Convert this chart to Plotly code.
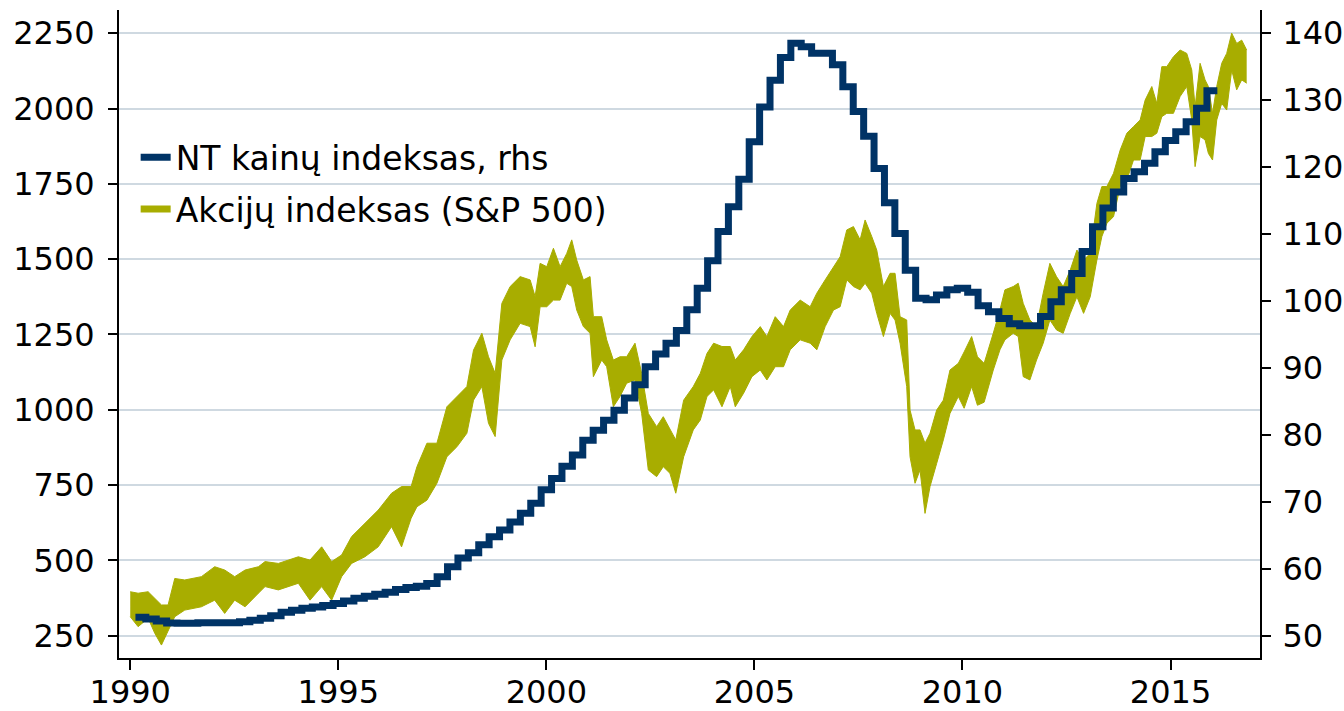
import plotly.graph_objects as go

# ---------------- data ----------------
# Real-estate price index (right axis), quarterly levels 1990Q1 .. 2016Q1,
# plotted at mid-quarter dates (decimal years)
nt_values = [
    52.75, 52.75, 52.5, 52.2,
    51.9, 51.85, 51.85, 51.95,
    51.95, 51.95, 51.95, 52.1,
    52.3, 52.6, 53.0, 53.5,
    53.8, 54.1, 54.3, 54.5,
    54.8, 55.2, 55.6, 55.9,
    56.2, 56.5, 56.9, 57.2,
    57.4, 57.8, 58.8, 60.3,
    61.6, 62.4, 63.6, 64.8,
    65.8, 67.0, 68.3, 69.8,
    71.8, 73.5, 75.3, 77.0,
    79.2, 80.7, 82.2, 83.7,
    85.5, 87.5, 90.2, 92.1,
    93.7, 95.6, 98.7, 101.9,
    106.0, 110.4, 114.1, 118.2,
    123.8, 129.0, 133.0, 136.4,
    138.5, 138.0, 137.0, 137.0,
    135.3, 132.0, 128.3, 124.6,
    119.8, 114.7, 110.1, 104.6,
    100.4, 100.2, 100.9, 101.7,
    101.9, 101.3, 99.3, 98.4,
    97.4, 96.6, 96.3, 96.3,
    97.7, 99.9, 101.7, 104.1,
    107.4, 111.1, 113.9, 116.3,
    118.3, 119.3, 120.6, 122.3,
    124.0, 125.3, 126.8, 128.8,
    131.4,
]
nt_years = [1990.125 + 0.25 * i for i in range(len(nt_values))]

# S&P 500 (left axis): upper and lower edge of the daily band
sp_years = [
    1990.00, 1990.19, 1990.43, 1990.59, 1990.75, 1990.91, 1991.07, 1991.31, 1991.71,
    1992.03, 1992.27, 1992.51, 1992.76, 1993.08, 1993.24, 1993.56, 1994.04, 1994.32,
    1994.60, 1994.84, 1995.08, 1995.32, 1995.64, 1995.96, 1996.28, 1996.52, 1996.75,
    1996.89, 1997.13, 1997.37, 1997.61, 1997.85, 1998.09, 1998.25, 1998.45, 1998.61,
    1998.77, 1998.93, 1999.13, 1999.37, 1999.61, 1999.73, 1999.85, 2000.01, 2000.17,
    2000.33, 2000.49, 2000.61, 2000.73, 2000.89, 2001.05, 2001.13, 2001.33, 2001.45,
    2001.61, 2001.77, 2001.93, 2002.13, 2002.29, 2002.45, 2002.65, 2002.81, 2002.97,
    2003.11, 2003.30, 2003.53, 2003.70, 2003.86, 2004.02, 2004.22, 2004.42, 2004.54,
    2004.74, 2004.94, 2005.14, 2005.30, 2005.50, 2005.70, 2005.86, 2006.10, 2006.34,
    2006.50, 2006.70, 2006.90, 2007.06, 2007.22, 2007.38, 2007.54, 2007.66, 2007.82,
    2007.94, 2008.10, 2008.26, 2008.38, 2008.50, 2008.66, 2008.74, 2008.86, 2008.98,
    2009.10, 2009.22, 2009.38, 2009.54, 2009.70, 2009.90, 2010.04, 2010.22, 2010.36,
    2010.52, 2010.74, 2010.90, 2011.02, 2011.22, 2011.34, 2011.46, 2011.62, 2011.78,
    2011.94, 2012.10, 2012.26, 2012.42, 2012.59, 2012.75, 2012.91, 2013.07, 2013.23,
    2013.35, 2013.47, 2013.63, 2013.79, 2013.95, 2014.11, 2014.27, 2014.39, 2014.55,
    2014.67, 2014.79, 2014.91, 2015.07, 2015.23, 2015.39, 2015.51, 2015.59, 2015.71,
    2015.83, 2015.91, 2016.01, 2016.11, 2016.23, 2016.35, 2016.47, 2016.59, 2016.71,
    2016.83,
]
sp_high = [
    396, 391, 396, 374, 352, 352, 440, 435, 446,
    479, 468, 446, 468, 479, 496, 490, 512, 501,
    545, 496, 518, 579, 623, 667, 723, 745, 745,
    811, 889, 889, 1010, 1044, 1077, 1198, 1254, 1176,
    1121, 1353, 1409, 1442, 1431, 1376, 1486, 1475, 1536,
    1475, 1519, 1564, 1497, 1431, 1442, 1309, 1309, 1232,
    1165, 1176, 1176, 1221, 1121, 988, 944, 977, 933,
    900, 1032, 1077, 1121, 1187, 1221, 1210, 1210, 1165,
    1199, 1243, 1276, 1243, 1309, 1276, 1331, 1364, 1342,
    1387, 1431, 1475, 1508, 1597, 1608, 1564, 1630, 1575,
    1530, 1409, 1453, 1453, 1309, 1298, 999, 933, 933,
    889, 922, 999, 1032, 1132, 1154, 1192, 1243, 1176,
    1154, 1254, 1331, 1398, 1409, 1420, 1353, 1298, 1276,
    1387, 1486, 1442, 1409, 1464, 1530, 1497, 1519, 1685,
    1741, 1741, 1785, 1862, 1918, 1940, 1962, 2028, 2073,
    2017, 2139, 2139, 2172, 2194, 2183, 2128, 2006, 2150,
    2095, 2073, 1984, 2073, 2150, 2183, 2250, 2216, 2227,
    2194,
]
sp_low = [
    313, 280, 308, 258, 219, 269, 313, 335, 346,
    368, 324, 368, 346, 391, 413, 402, 424, 368,
    413, 368, 446, 490, 512, 545, 612, 545, 640,
    678, 700, 756, 844, 877, 922, 1032, 1077, 955,
    911, 1165, 1232, 1287, 1276, 1209, 1342, 1342, 1364,
    1364, 1420, 1409, 1331, 1276, 1254, 1110, 1165, 1143,
    1010, 1044, 1088, 1099, 988, 800, 778, 811, 789,
    723, 844, 933, 966, 1044, 1066, 1010, 1077, 1010,
    1055, 1110, 1132, 1099, 1143, 1143, 1199, 1232, 1221,
    1199, 1276, 1331, 1342, 1431, 1409, 1398, 1420, 1387,
    1320, 1243, 1320, 1298, 1221, 1077, 844, 756, 800,
    656, 745, 822, 900, 988, 1044, 1005, 1077, 1015,
    1025, 1132, 1199, 1232, 1254, 1243, 1110, 1099, 1165,
    1221, 1298, 1265, 1254, 1320, 1375, 1320, 1375, 1497,
    1575, 1619, 1641, 1741, 1763, 1829, 1829, 1907, 1907,
    1918, 1973, 1984, 1984, 2040, 2073, 1962, 1807, 1907,
    1896, 1851, 1829, 1962, 2017, 1995, 2128, 2062, 2095,
    2084,
]

left_ticks = [250, 500, 750, 1000, 1250, 1500, 1750, 2000, 2250]
right_ticks = [50, 60, 70, 80, 90, 100, 110, 120, 130, 140]
x_ticks = [1990, 1995, 2000, 2005, 2010, 2015]

NT_NAME = "NT kainų indeksas, rhs"
SP_NAME = "Akcijų indeksas (S&P 500)"

NAVY = "#003366"
OLIVE = "#A8AD00"
GRID = "#CFD9E1"
FONT = "DejaVu Sans"

# ---------------- figure ----------------
fig = go.Figure()

fig.add_trace(go.Scatter(
    x=sp_years, y=sp_low, mode="lines", line=dict(color=OLIVE, width=1),
    showlegend=False, hoverinfo="skip", yaxis="y"))
fig.add_trace(go.Scatter(
    x=sp_years, y=sp_high, mode="lines", line=dict(color=OLIVE, width=1),
    fill="tonexty", fillcolor=OLIVE, showlegend=False, yaxis="y"))
# legend entry for the S&P band
fig.add_trace(go.Scatter(
    x=[None], y=[None], mode="lines", line=dict(color=OLIVE, width=7),
    name=SP_NAME, legendrank=2, legendgroup="sp", yaxis="y"))
fig.add_trace(go.Scatter(
    x=nt_years, y=nt_values, mode="lines",
    line=dict(color=NAVY, width=7, shape="vh"),
    name=NT_NAME, legendrank=1, legendgroup="nt", yaxis="y2"))

axis_common = dict(
    showline=True, linecolor="black", linewidth=2,
    ticks="outside", tickwidth=2, tickcolor="black",
    tickfont=dict(family=FONT, size=32, color="black"),
    zeroline=False, automargin=False,
)

fig.update_layout(
    width=1344, height=711, autosize=False,
    margin=dict(l=119, r=84, t=10, b=53, pad=0),
    paper_bgcolor="white", plot_bgcolor="white",
    font=dict(family=FONT, size=32, color="black"),
    xaxis=dict(range=[1989.73, 2017.15], tickvals=x_ticks,
               ticktext=[str(v) for v in x_ticks], ticklen=10,
               ticklabelstandoff=-5,
               showgrid=False, **axis_common),
    yaxis=dict(range=[176, 2327], tickvals=left_ticks, ticklen=9,
               ticklabelstandoff=7,
               showgrid=True, gridcolor=GRID, gridwidth=2, **axis_common),
    yaxis2=dict(range=[46.67, 143.48], tickvals=right_ticks, ticklen=9,
                ticklabelstandoff=5,
                overlaying="y", side="right", showgrid=False, **axis_common),
    legend=dict(x=0.0146, y=0.816, xanchor="left", yanchor="top",
                bgcolor="rgba(0,0,0,0)", font=dict(family=FONT, size=33),
                tracegroupgap=6, itemwidth=30),
    showlegend=True,
)

# remove the default page margin so the 1344x711 figure fills the window
fig.write_html(
    "out.html",
    config={"displayModeBar": False},
    post_script="document.body.style.margin='0px';document.body.style.overflow='hidden';",
)
